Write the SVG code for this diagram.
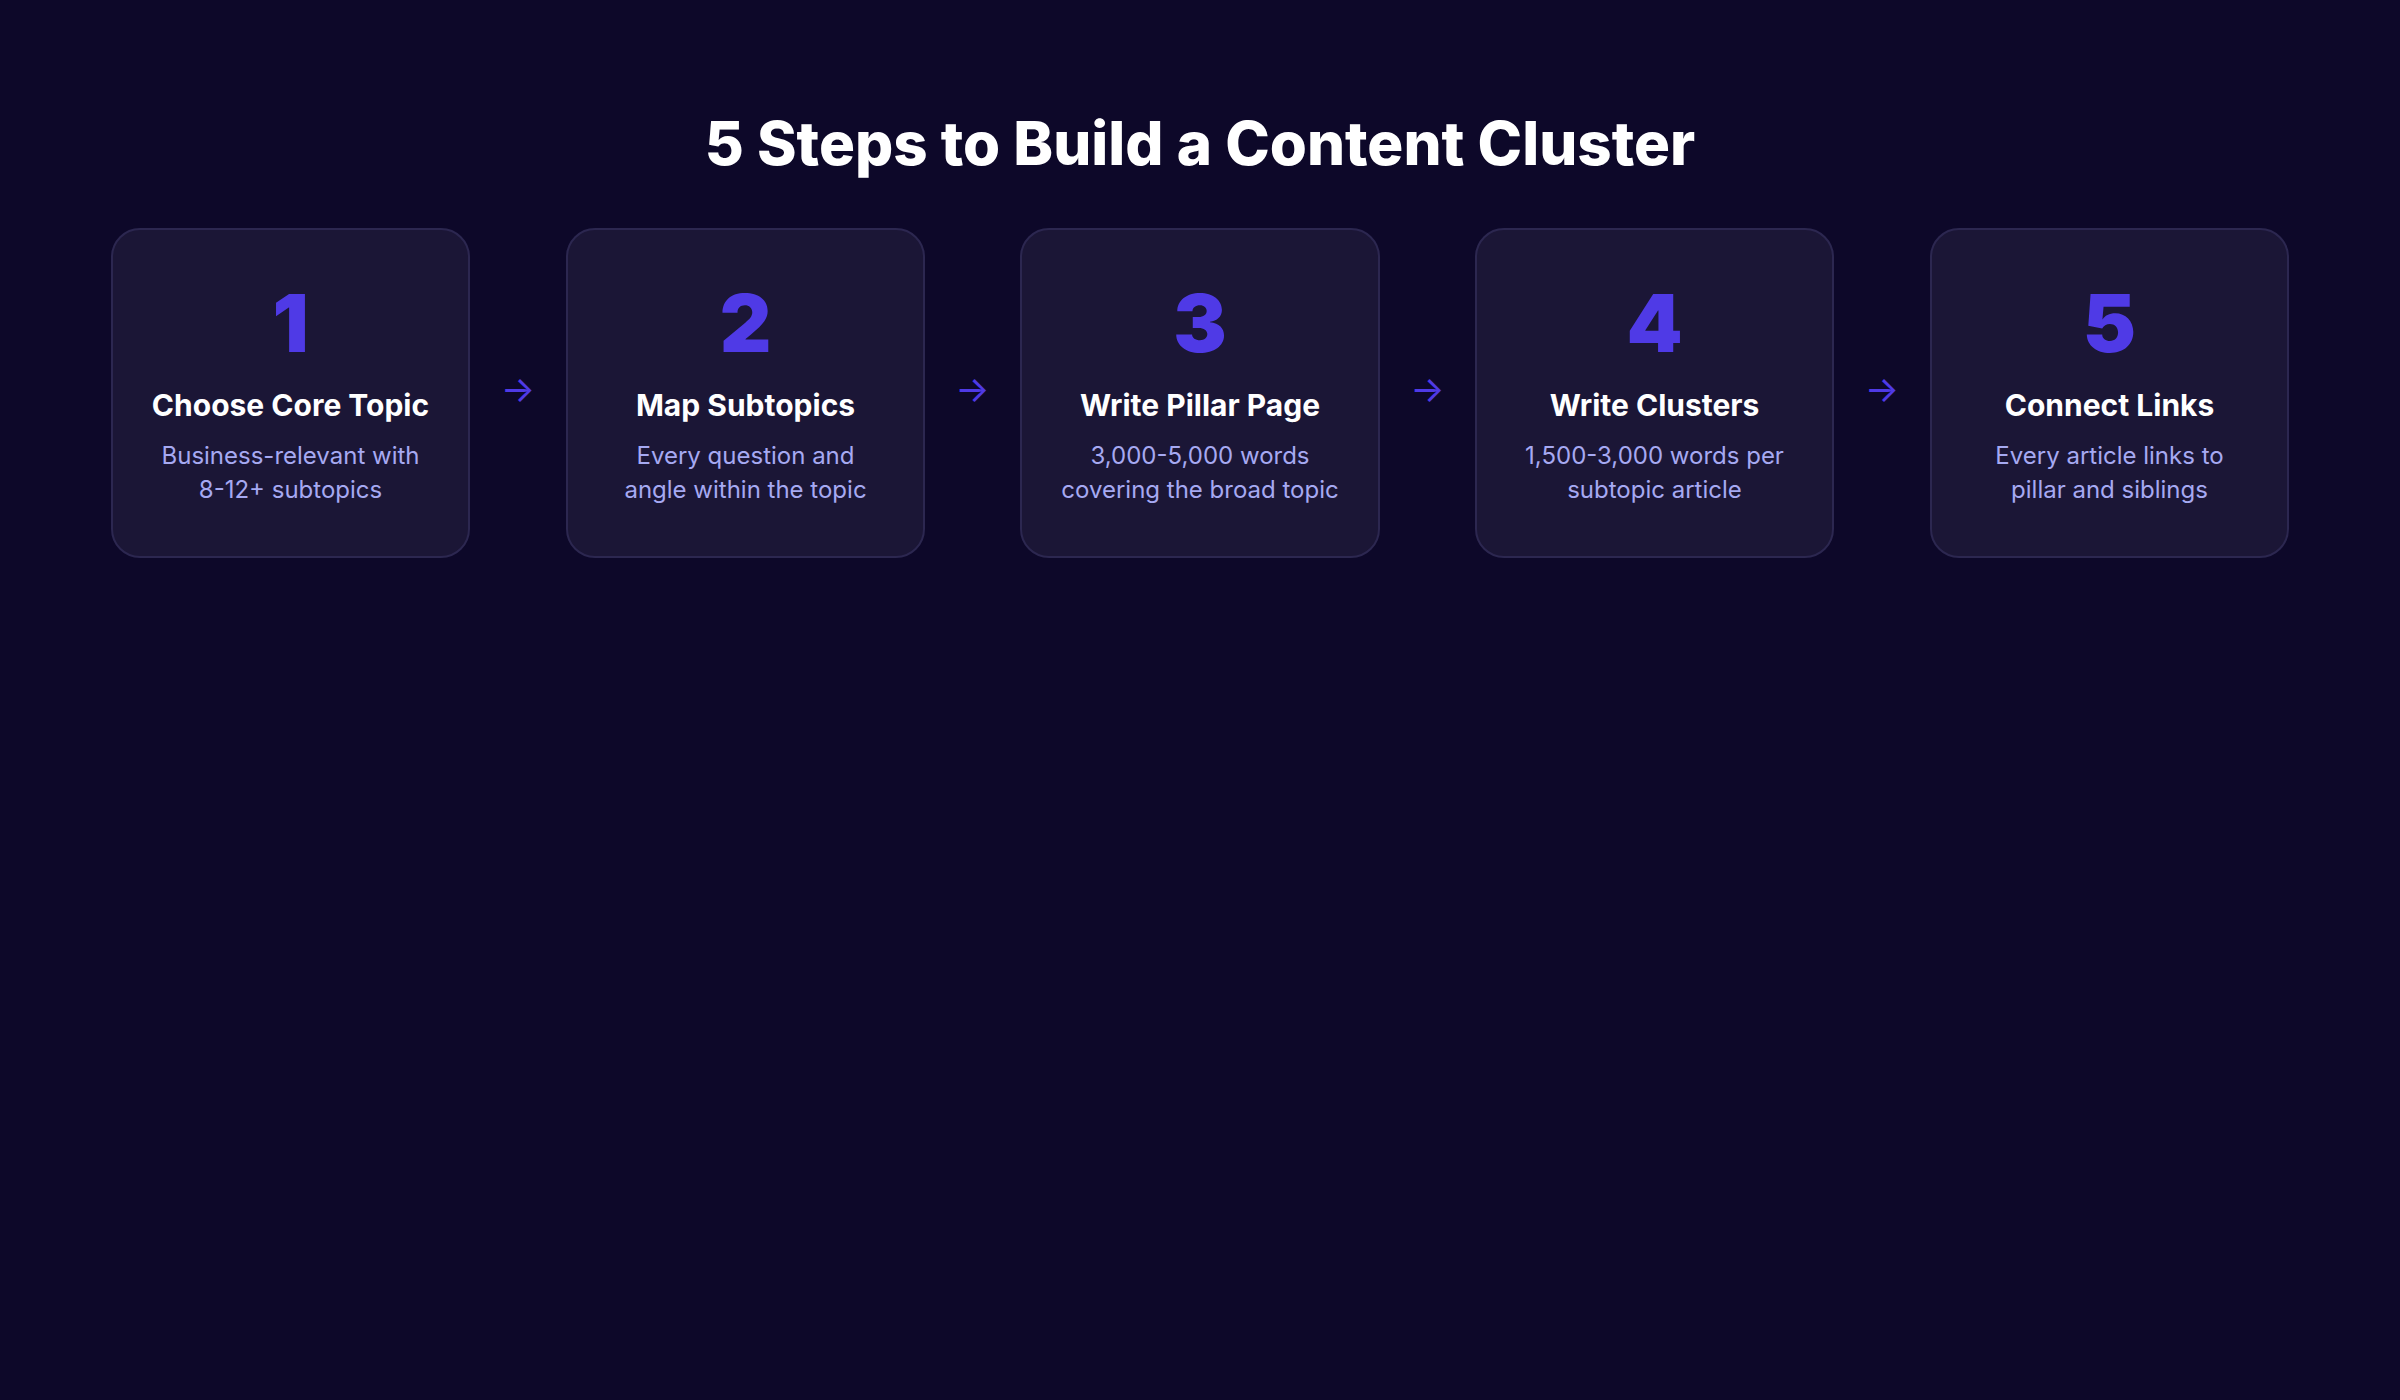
<svg xmlns="http://www.w3.org/2000/svg" width="2400" height="1400" viewBox="0 0 2400 1400">
<defs><style>
.card{fill:#1b1636;stroke:#2c2750;stroke-width:2}
.num{font-family:Inter,"Liberation Sans",sans-serif;font-weight:900;font-size:80px;fill:#4f3ae6;text-anchor:middle}
.ttl{font-family:Inter,"Liberation Sans",sans-serif;font-weight:700;font-size:30px;fill:#ffffff;text-anchor:middle}
.dsc{font-family:Inter,"Liberation Sans",sans-serif;font-size:24px;fill:#a6a9f2;text-anchor:middle}
.arr{font-family:Inter,"Liberation Sans",sans-serif;font-size:36px;fill:#4f3ae6;text-anchor:middle}
</style></defs>
<rect width="2400" height="1400" fill="#0d0829"/>
<text x="1200" y="165" font-family="Inter,'Liberation Sans',sans-serif" font-weight="800" font-size="60" fill="#ffffff" text-anchor="middle">5 Steps to Build a Content Cluster</text>
<g id="step1"><rect class="card" x="112" y="229" width="357" height="328" rx="28"/><text class="num" x="290.5" y="352">1</text><text class="ttl" x="290.5" y="416">Choose Core Topic</text><text class="dsc" x="290.5" y="464">Business-relevant with</text><text class="dsc" x="290.5" y="498">8-12+ subtopics</text></g>
<g id="step2"><rect class="card" x="567" y="229" width="357" height="328" rx="28"/><text class="num" x="745.5" y="352">2</text><text class="ttl" x="745.5" y="416">Map Subtopics</text><text class="dsc" x="745.5" y="464">Every question and</text><text class="dsc" x="745.5" y="498">angle within the topic</text></g>
<g id="step3"><rect class="card" x="1021" y="229" width="358" height="328" rx="28"/><text class="num" x="1200" y="352">3</text><text class="ttl" x="1200" y="416">Write Pillar Page</text><text class="dsc" x="1200" y="464">3,000-5,000 words</text><text class="dsc" x="1200" y="498">covering the broad topic</text></g>
<g id="step4"><rect class="card" x="1476" y="229" width="357" height="328" rx="28"/><text class="num" x="1654.5" y="352">4</text><text class="ttl" x="1654.5" y="416">Write Clusters</text><text class="dsc" x="1654.5" y="464">1,500-3,000 words per</text><text class="dsc" x="1654.5" y="498">subtopic article</text></g>
<g id="step5"><rect class="card" x="1931" y="229" width="357" height="328" rx="28"/><text class="num" x="2109.5" y="352">5</text><text class="ttl" x="2109.5" y="416">Connect Links</text><text class="dsc" x="2109.5" y="464">Every article links to</text><text class="dsc" x="2109.5" y="498">pillar and siblings</text></g>
<g id="connectors">
<text class="arr" x="518" y="402">→</text>
<text class="arr" x="972.5" y="402">→</text>
<text class="arr" x="1427.5" y="402">→</text>
<text class="arr" x="1882" y="402">→</text>
</g>
</svg>
